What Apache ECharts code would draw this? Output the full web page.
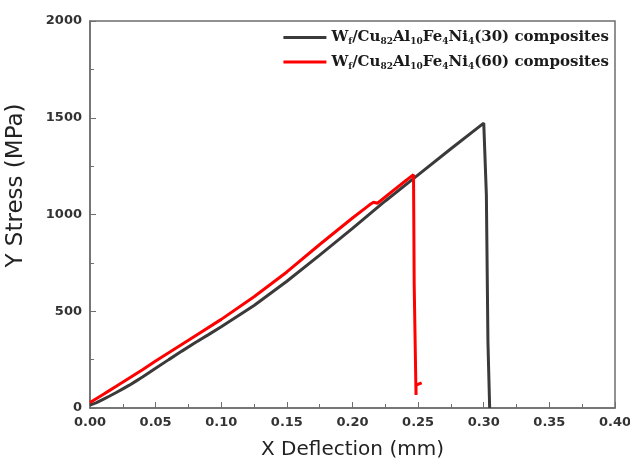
<!DOCTYPE html>
<html lang="en">
<head>
    <meta charset="UTF-8">
    <title>Stress vs deflection</title>
    <script src="https://cdn.jsdelivr.net/npm/echarts@6/dist/echarts.min.js"></script>
    <style>
        body { margin: 0; background: #fff; }
        #main_1 { width: 630px; height: 467px; }
    </style>
</head>
<body>
<div id="main_1"></div>
<script>
    // values
    var defl30 = [0, 0.005, 0.01, 0.015, 0.02, 0.025, 0.03, 0.035, 0.04, 0.05, 0.06, 0.07, 0.08, 0.09, 0.1, 0.125, 0.15, 0.175, 0.2, 0.225, 0.25, 0.275, 0.3, 0.3015, 0.302, 0.3028, 0.3032, 0.3045];
    var stress30 = [15, 28, 45, 62, 80, 99, 118, 139, 160, 205, 250, 294, 337, 378, 420, 530, 655, 790, 928, 1070, 1205, 1340, 1472, 1478, 1100, 1090, 340, 0];

    var defl60 = [0, 0.005, 0.01, 0.015, 0.02, 0.03, 0.04, 0.05, 0.075, 0.1, 0.125, 0.15, 0.175, 0.2, 0.213, 0.216, 0.219, 0.23, 0.24, 0.2465, 0.247, 0.247, 0.2484, 0.2484, 0.2484, 0.2527];
    var stress60 = [28, 49, 70, 91, 112, 155, 198, 243, 350, 458, 575, 703, 845, 982, 1050, 1063, 1058, 1118, 1172, 1206, 1200, 640, 630, 67, 118, 130];

    var seriesNames = ['W30', 'W60'];
    var legendLabels = {
        W30: '{n|W}{s|f}{n|/Cu}{s|82}{n|Al}{s|10}{n|Fe}{s|4}{n|Ni}{s|4}{n|(30) composites}',
        W60: '{n|W}{s|f}{n|/Cu}{s|82}{n|Al}{s|10}{n|Fe}{s|4}{n|Ni}{s|4}{n|(60) composites}'
    };

    function pairs(xs, ys) {
        var out = [];
        for (var i = 0; i < xs.length; i++) out.push([xs[i], ys[i]]);
        return out;
    }

    var myChart = echarts.init(document.getElementById('main_1'));

    var axisCol = '#6e6e6e';
    var labelStyle = {
        color: '#333',
        fontFamily: 'DejaVu Sans, Arial, sans-serif',
        fontWeight: 'bold',
        fontSize: 13
    };

    var option = {
        animation: false,
        backgroundColor: '#fff',
        grid: {
            left: 90, right: 15, top: 21, bottom: 59,
            outerBoundsMode: 'none',
            show: true, borderColor: axisCol, borderWidth: 1.5
        },
        legend: {
            orient: 'vertical',
            right: 16,
            top: 25,
            itemWidth: 43,
            itemHeight: 14,
            itemGap: 8,
            icon: 'path://M0,6 L43,6 L43,9 L0,9 Z',
            data: seriesNames,
            formatter: function (name) { return legendLabels[name]; },
            textStyle: {
                color: '#111',
                rich: {
                    n: { fontSize: 15, fontFamily: 'DejaVu Serif', fontWeight: 'bold', color: '#1a1a1a', lineHeight: 18 },
                    s: { fontSize: 9, fontFamily: 'DejaVu Serif', fontWeight: 'bold', color: '#1a1a1a', lineHeight: 18, verticalAlign: 'bottom', padding: [5, 0, 0, 0] }
                }
            }
        },
        xAxis: {
            type: 'value',
            min: 0, max: 0.4, interval: 0.05,
            name: 'X Deflection (mm)',
            nameLocation: 'middle',
            nameGap: 32,
            nameTextStyle: { fontFamily: 'DejaVu Sans, Arial, sans-serif', fontSize: 20, color: '#222' },
            axisLine: { lineStyle: { color: axisCol, width: 1.5 } },
            axisTick: { inside: true, length: 6, lineStyle: { color: axisCol } },
            minorTick: { show: true, splitNumber: 2, length: 4, lineStyle: { color: axisCol } },
            splitLine: { show: false },
            axisLabel: Object.assign({ margin: 8, formatter: function (v) { return v.toFixed(2); } }, labelStyle)
        },
        yAxis: {
            type: 'value',
            min: 0, max: 2000, interval: 500,
            name: 'Y Stress (MPa)',
            nameLocation: 'middle',
            nameGap: 62,
            nameTextStyle: { fontFamily: 'DejaVu Sans, Arial, sans-serif', fontSize: 23, color: '#222', padding: [0, 0, 0, 58] },
            axisLine: { lineStyle: { color: axisCol, width: 1.5 } },
            axisTick: { inside: true, length: 6, lineStyle: { color: axisCol } },
            minorTick: { show: true, splitNumber: 2, length: 4, lineStyle: { color: axisCol } },
            splitLine: { show: false },
            axisLabel: Object.assign({ margin: 8, formatter: function (v) { return String(v); } }, labelStyle)
        },
        series: [
            {
                name: 'W30',
                type: 'line',
                data: pairs(defl30, stress30),
                showSymbol: false,
                color: '#3a3a3a',
                lineStyle: { color: '#3a3a3a', width: 3 },
                z: 2
            },
            {
                name: 'W60',
                type: 'line',
                data: pairs(defl60, stress60),
                showSymbol: false,
                color: '#ff0000',
                lineStyle: { color: '#ff0000', width: 3 },
                z: 3
            }
        ]
    };

    myChart.setOption(option);
</script>
</body>
</html>
